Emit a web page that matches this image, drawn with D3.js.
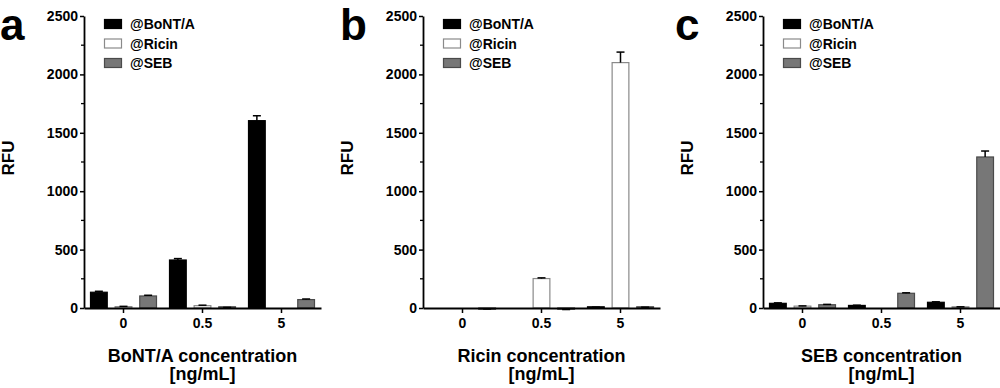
<!DOCTYPE html>
<html>
<head>
<meta charset="utf-8">
<script src="https://cdn.jsdelivr.net/npm/d3@7"></script>
<style>
  body { margin: 0; background: #fff; }
  text { font-family: "Liberation Sans", Arial, sans-serif; font-weight: bold; fill: #000; }
</style>
</head>
<body>
<svg id="chart" width="1000" height="388"></svg>
<script>
// data
var concentrations = ["0", "0.5", "5"];
var seriesNames = ["@BoNT/A", "@Ricin", "@SEB"];
var panelLetters = ["a", "b", "c"];
var xTitles = ["BoNT/A concentration", "Ricin concentration", "SEB concentration"];

// values per panel: [series][concentration]
var panelA = [[135, 411, 1604], [12, 20, 0], [103, 4, 72]];
var panelAErr = [[8, 12, 42], [2, 4, 0], [6, 1, 5]];
var panelB = [[0, 0, 5], [0, 252, 2101], [-6, -10, 5]];
var panelBErr = [[0, 0, 2], [0, 6, 90], [2, 3, 2]];
var panelC = [[40, 22, 49], [16, 0, 8], [28, 126, 1293]];
var panelCErr = [[4, 2, 4], [2, 0, 2], [3, 4, 51]];

var yTicks = [0, 500, 1000, 1500, 2000, 2500];
var yMinorTicks = [250, 750, 1250, 1750, 2250];

var fills = ["#000000", "#ffffff", "#777777"];
var strokes = ["#000000", "#8a8a8a", "#4a4a4a"];

var svg = d3.select("#chart");

var axisLeft = [84, 423, 763];
var letterX = [0, 340, 675];
var plotW = 237;
var yTop = 16, yBottom = 308;

var y = d3.scaleLinear().domain([0, 2500]).range([yBottom, yTop]);

var allPanels = [panelA, panelB, panelC];
var allErrs = [panelAErr, panelBErr, panelCErr];

for (var p = 0; p < 3; p++) {
    var x0 = axisLeft[p];
    var g = svg.append("g").attr("transform", "translate(" + x0 + ",0)");

    var x = d3.scaleBand().domain(concentrations).range([0, plotW]).padding(0);
    var xs = d3.scaleBand().domain(seriesNames).range([-33, 33]).paddingInner(0.32);

    // bars
    var vals = allPanels[p];
    var errs = allErrs[p];
    for (var s = 0; s < 3; s++) {
        for (var c = 0; c < 3; c++) {
            var v = vals[s][c];
            if (v == 0) continue;
            var cx = x(concentrations[c]) + x.bandwidth() / 2;
            var bx = cx + xs(seriesNames[s]);
            var bw = xs.bandwidth();
            var h = Math.max(Math.abs(y(v) - y(0)), 1.2);
            g.append("rect")
                .attr("x", bx).attr("y", v < 0 ? y(0) : y(0) - h)
                .attr("width", bw).attr("height", h)
                .attr("fill", fills[s]).attr("stroke", strokes[s]).attr("stroke-width", 1.2);

            var e = errs[s][c];
            if (e > 0) {
                var mid = bx + bw / 2;
                var yEnd = v < 0 ? y(v - e) : y(v + e);
                g.append("line").attr("x1", mid).attr("x2", mid)
                    .attr("y1", y(v)).attr("y2", yEnd)
                    .attr("stroke", "#000").attr("stroke-width", 1.5);
                g.append("line").attr("x1", mid - 4).attr("x2", mid + 4)
                    .attr("y1", yEnd).attr("y2", yEnd)
                    .attr("stroke", "#000").attr("stroke-width", 1.5);
            }
        }
    }

    // y axis
    var yAxis = d3.axisLeft(y).tickValues(yTicks).tickFormat(d3.format("d"))
        .tickSize(4).tickPadding(2).tickSizeOuter(0);
    var ya = g.append("g").call(yAxis);
    ya.select(".domain").attr("stroke-width", 1.8);
    ya.selectAll(".tick line").attr("stroke-width", 1.5);
    ya.selectAll("text").style("font-size", "14px").style("font-family", "Liberation Sans, Arial").style("font-weight", "bold");
    g.selectAll(".minor").data(yMinorTicks).enter().append("line")
        .attr("class", "minor")
        .attr("x1", -3).attr("x2", 0)
        .attr("y1", function (d) { return y(d); }).attr("y2", function (d) { return y(d); })
        .attr("stroke", "#000").attr("stroke-width", 1.3);

    // x axis
    var xAxis = d3.axisBottom(x).tickSize(5).tickPadding(5).tickSizeOuter(0);
    var xa = g.append("g").attr("transform", "translate(0," + y(0) + ")").call(xAxis);
    xa.select(".domain").attr("stroke-width", 1.8);
    xa.selectAll(".tick line").attr("stroke-width", 1.5);
    xa.selectAll("text").style("font-size", "14px").style("font-family", "Liberation Sans, Arial").style("font-weight", "bold");

    // axis titles
    g.append("text")
        .attr("transform", "translate(-70,158) rotate(-90)")
        .attr("text-anchor", "middle")
        .style("font-size", "17px")
        .text("RFU");
    g.append("text")
        .attr("x", plotW / 2).attr("y", 362)
        .attr("text-anchor", "middle")
        .style("font-size", "18px")
        .text(xTitles[p]);
    g.append("text")
        .attr("x", plotW / 2).attr("y", 380)
        .attr("text-anchor", "middle")
        .style("font-size", "18px")
        .text("[ng/mL]");

    // legend
    var leg = g.append("g").attr("transform", "translate(20,19)");
    seriesNames.forEach(function (name, i) {
        leg.append("rect")
            .attr("x", 0.5).attr("y", i * 19.5 + 0.5)
            .attr("width", 17).attr("height", 9)
            .attr("fill", fills[i]).attr("stroke", strokes[i]).attr("stroke-width", 1.2);
        leg.append("text")
            .attr("x", 26).attr("y", i * 19.5 + 10)
            .style("font-size", "14px")
            .text(name);
    });

    // panel letter
    svg.append("text")
        .attr("x", letterX[p]).attr("y", 40)
        .style("font-size", "44px")
        .text(panelLetters[p]);
}
</script>
</body>
</html>
